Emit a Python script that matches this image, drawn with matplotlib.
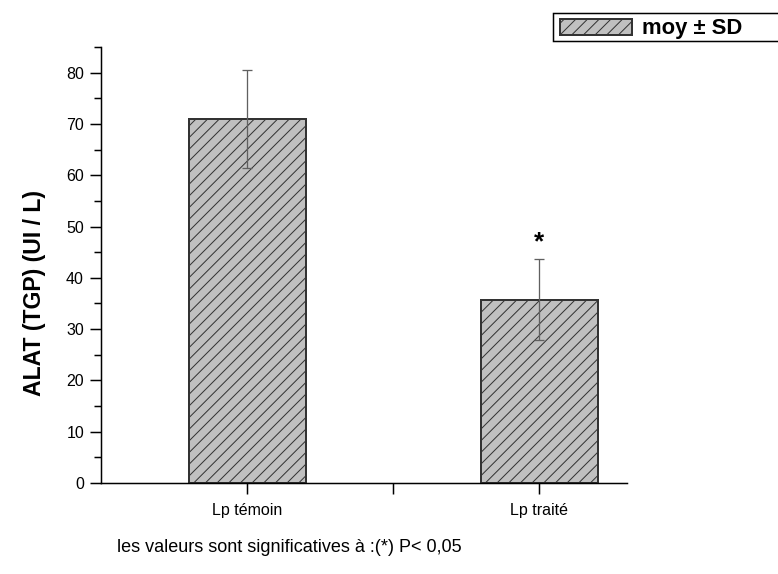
import matplotlib.pyplot as plt
import matplotlib.ticker as mticker
from matplotlib.patches import Rectangle

# Données ALAT (TGP)
groupes = ["Lp témoin", "Lp traité"]
moyennes = [71.0, 35.7]
ecarts = [9.6, 7.9]
significatif = [False, True]

DPI = 140
PT = 72.0 / DPI  # conversion pixels -> points

plt.rcParams['font.family'] = ['Liberation Sans', 'DejaVu Sans']
plt.rcParams['hatch.linewidth'] = 1.0 * PT

fig = plt.figure(figsize=(778 / DPI, 574 / DPI), dpi=DPI)
ax = fig.add_axes([101 / 778, 91 / 574, 526 / 778, 436 / 574])

x = [1, 2]
bars = ax.bar(x, moyennes, width=0.4, color='#c0c0c0', edgecolor='#333333',
              linewidth=2 * PT, hatch='////', label='moy ± SD', zorder=2)
ax.errorbar(x, moyennes, yerr=ecarts, fmt='none', ecolor='#606060',
            elinewidth=1.3 * PT, capsize=5.5 * PT, capthick=1.3 * PT, zorder=3)

for xi, m, s, sig in zip(x, moyennes, ecarts, significatif):
    if sig:
        ax.text(xi, m + s + 1.0, '*', ha='center', va='bottom',
                fontsize=26 * PT, fontweight='bold')

ax.set_xlim(0.5, 2.3)
ax.set_ylim(0, 85)
ax.set_xticks([1, 1.5, 2])
ax.set_xticklabels([groupes[0], "", groupes[1]])
ax.yaxis.set_major_locator(mticker.MultipleLocator(10))
ax.yaxis.set_minor_locator(mticker.MultipleLocator(5))
ax.tick_params(axis='both', which='major', length=11 * PT, width=1.5 * PT,
               labelsize=16 * PT)
ax.tick_params(axis='y', which='major', pad=6 * PT)
ax.tick_params(axis='x', which='major', pad=9 * PT)
ax.tick_params(axis='y', which='minor', length=7 * PT, width=1.5 * PT)

for side in ['top', 'right']:
    ax.spines[side].set_visible(False)
for side in ['left', 'bottom']:
    ax.spines[side].set_linewidth(1.5 * PT)

ax.set_ylabel("ALAT (TGP) (UI / L)", fontsize=23 * PT, fontweight='bold')
ax.yaxis.set_label_coords((35 - 101) / 526, (483 - 293) / 436)
ax.yaxis.label.set_va('center')

# cadre de légende (dépasse le bord droit)
fig.patches.append(Rectangle((553 / 778, 1 - 41 / 574), 240 / 778, 28 / 574,
                             transform=fig.transFigure, facecolor='white',
                             edgecolor='black', linewidth=1.5 * PT, zorder=1))
leg = fig.legend(handles=[bars], labels=['moy ± SD'], loc='upper left',
                 bbox_to_anchor=(556 / 778, 1 - 14 / 574), borderaxespad=0,
                 prop={'size': 22 * PT, 'weight': 'bold'},
                 handlelength=72 / 22, handleheight=16 / 22, handletextpad=0.45,
                 borderpad=0.2, frameon=False)

fig.text(117 / 778, 1 - 547 / 574, "les valeurs sont significatives à :(*) P< 0,05",
         ha='left', va='center', fontsize=18 * PT)

fig.savefig("out.png", dpi=DPI)
